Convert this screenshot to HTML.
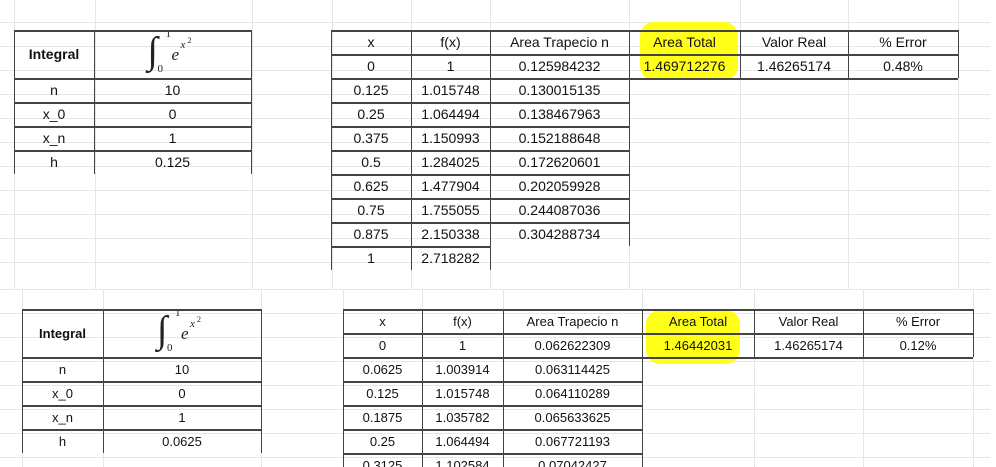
<!DOCTYPE html>
<html style="overflow:hidden;height:467px"><head><meta charset="utf-8">
<style>
body{margin:0;width:996px;height:467px;background:#fff;overflow:hidden;position:relative;font-family:"Liberation Sans",sans-serif;color:#111}
.g{position:absolute;background:#e6e6e6}
.c{position:absolute;box-sizing:border-box;display:flex;align-items:center;justify-content:center;font-size:14px;white-space:nowrap}
.b{position:absolute;background:#444}
.hl{position:absolute;background:#ffff1a;border-radius:14px}
.int{position:absolute;font-family:"Liberation Serif",serif;font-style:italic;color:#222}
</style></head><body>
<div id="root"></div>
<script>
const root=document.getElementById('root');
function add(cls,x,y,w,h,txt,name,bold){
  const d=document.createElement('div');
  d.className=cls;
  d.style.left=x+'px';d.style.top=y+'px';d.style.width=w+'px';d.style.height=h+'px';
  if(txt!==undefined)d.textContent=txt;
  if(bold)d.style.fontWeight='bold';
  
  
  root.appendChild(d);return d;
}
const gx=[14,95,252,332,411,490,629,740,848,958];
gx.forEach(x=>add('g',x,0,1,290,undefined,'gridline-v'));
for(let y=22;y<=280;y+=24)add('g',0,y,990,1,undefined,'gridline-h');
const gx2=[22,103,261,343,422,503,642,754,863,973];
gx2.forEach(x=>add('g',x,290,1,177,undefined,'gridline-v'));
for(let y=289;y<=460;y+=24)add('g',0,y,990,1,undefined,'gridline-h');

add('hl',640,22,98,58,undefined,'highlight-area-total');
add('hl',646,310,94,54,undefined,'highlight-area-total-2');

function table(T){
  const {lx,ly,ry,rx,rows,n,h,xs,fx,at,tot,real,err,fs}=T;
  const L=lx, rh=24;
  add('c',L[0],ly,L[1]-L[0],48,'Integral','integral-label',true).style.fontSize=fs+'px';
  const lbl=['n','x_0','x_n','h'], val=[n,'0','1',h];
  lbl.forEach((t,i)=>{
    add('c',L[0],ly+48+i*rh,L[1]-L[0],rh,t,'param-label').style.fontSize=fs+'px';
    add('c',L[1],ly+48+i*rh,L[2]-L[1],rh,val[i],'param-value').style.fontSize=fs+'px';
  });
  const cx=(L[1]+L[2])/2;
  const s=add('int',cx-25,ly+1,60,46,undefined,'integral-formula');
  s.innerHTML='<span style="position:absolute;left:0;top:-2px;font-size:38px;font-style:normal">∫</span><span style="position:absolute;left:10px;top:32px;font-size:11px;font-style:normal">0</span><span style="position:absolute;left:18px;top:-3px;font-size:11px;font-style:normal">1</span><span style="position:absolute;left:24px;top:14px;font-size:17px">e</span><span style="position:absolute;left:33px;top:8px;font-size:11px">x</span><span style="position:absolute;left:40px;top:5px;font-size:8px;font-style:normal">2</span>';
  [0,48,72,96,120].forEach(d=>add('b',L[0],ly+d,L[2]-L[0],2,undefined,'border'));
  L.forEach(x=>add('b',x,ly,1,144,undefined,'border'));
  const R=rx;
  const hdr=['x','f(x)','Area Trapecio n','Area Total','Valor Real','% Error'];
  hdr.forEach((t,i)=>add('c',R[i],ry,R[i+1]-R[i],rh,t,'header-'+i).style.fontSize=fs+'px');
  add('c',R[3],ry+rh,R[4]-R[3],rh,tot,'area-total-value').style.fontSize=fs+'px';
  add('c',R[4],ry+rh,R[5]-R[4],rh,real,'valor-real-value').style.fontSize=fs+'px';
  add('c',R[5],ry+rh,R[6]-R[5],rh,err,'error-value').style.fontSize=fs+'px';
  for(let i=0;i<rows;i++){
    const y=ry+rh*(i+1);
    if(xs[i]!==undefined)add('c',R[0],y,R[1]-R[0],rh,xs[i],'x-cell').style.fontSize=fs+'px';
    if(fx[i]!==undefined)add('c',R[1],y,R[2]-R[1],rh,fx[i],'fx-cell').style.fontSize=fs+'px';
    if(at[i]!==undefined)add('c',R[2],y,R[3]-R[2],rh,at[i],'area-trap-cell').style.fontSize=fs+'px';
  }
  add('b',R[0],ry,R[6]-R[0],2,undefined,'border');
  add('b',R[0],ry+rh,R[6]-R[0],2,undefined,'border');
  add('b',R[0],ry+2*rh,R[6]-R[0],2,undefined,'border');
  for(let i=3;i<=rows;i++){
    const w=(i<=at.length)?R[3]-R[0]:R[2]-R[0];
    add('b',R[0],ry+i*rh,w,2,undefined,'border');
  }
  const bot=ry+rh*(rows+1);
  add('b',R[0],ry,1,bot-ry,undefined,'border');
  add('b',R[1],ry,1,bot-ry,undefined,'border');
  add('b',R[2],ry,1,bot-ry,undefined,'border');
  add('b',R[3],ry,1,Math.min(bot,ry+rh*(at.length+1))-ry,undefined,'border');
  [4,5,6].forEach(k=>add('b',R[k],ry,1,2*rh,undefined,'border'));
}
table({lx:[14,94,251],ly:30,ry:30,rx:[331,411,490,629,740,848,958],rows:9,fs:14,n:'10',h:'0.125',
 xs:['0','0.125','0.25','0.375','0.5','0.625','0.75','0.875','1'],
 fx:['1','1.015748','1.064494','1.150993','1.284025','1.477904','1.755055','2.150338','2.718282'],
 at:['0.125984232','0.130015135','0.138467963','0.152188648','0.172620601','0.202059928','0.244087036','0.304288734'],
 tot:'1.469712276',real:'1.46265174',err:'0.48%'});
table({lx:[22,103,261],ly:309,ry:309,rx:[343,422,503,642,754,863,973],rows:6,fs:13,n:'10',h:'0.0625',
 xs:['0','0.0625','0.125','0.1875','0.25','0.3125'],
 fx:['1','1.003914','1.015748','1.035782','1.064494','1.102584'],
 at:['0.062622309','0.063114425','0.064110289','0.065633625','0.067721193','0.07042427'],
 tot:'1.46442031',real:'1.46265174',err:'0.12%'});
</script>
</body></html>
